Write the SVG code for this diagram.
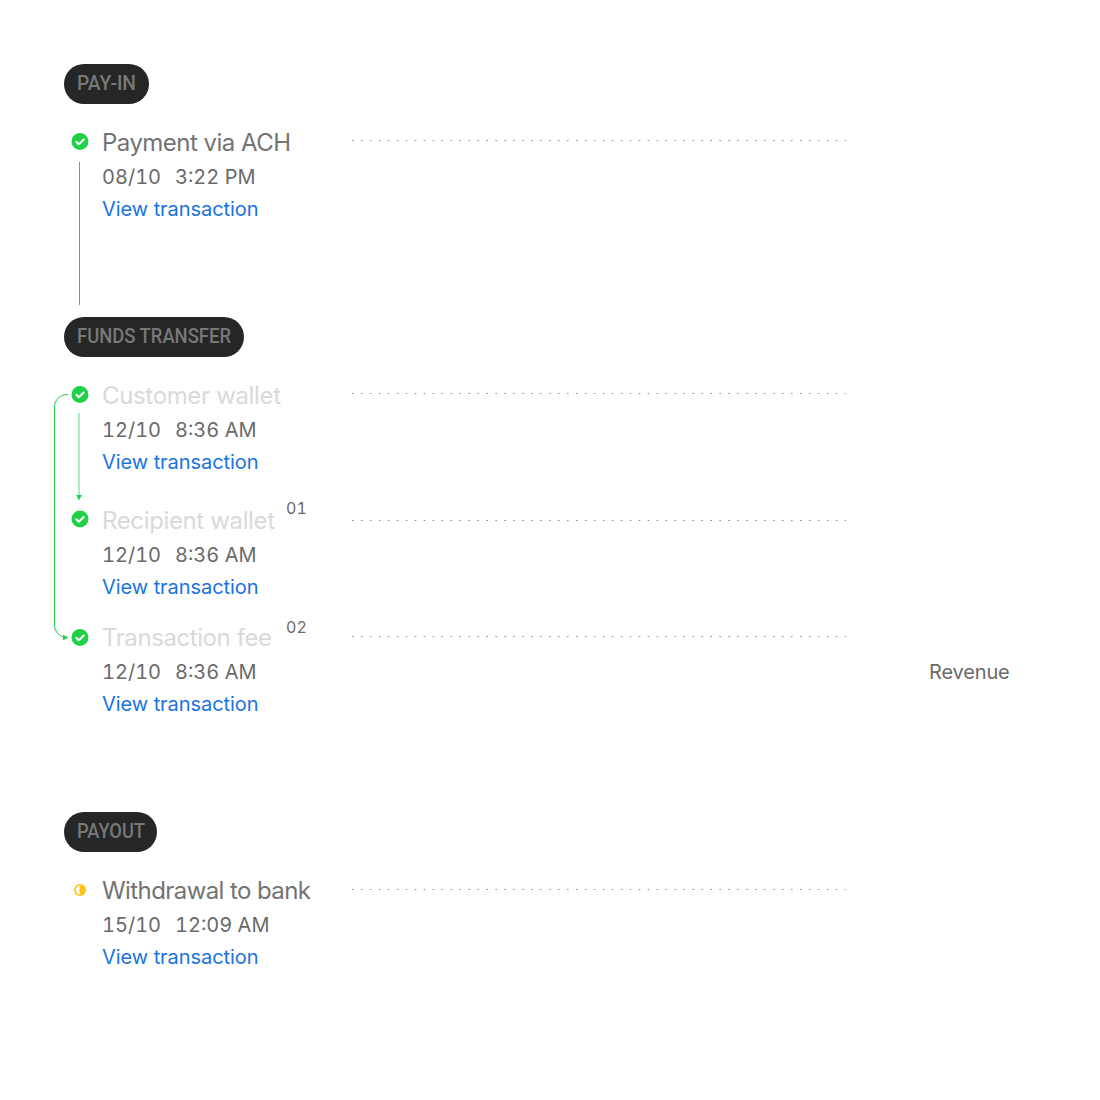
<svg xmlns="http://www.w3.org/2000/svg" width="1100" height="1100" viewBox="0 0 1100 1100">
<style>
text{font-family:Inter,"Liberation Sans",sans-serif}
.b{fill:#262626}
.bt{font-family:Roboto,"Liberation Sans",sans-serif;font-size:20px;font-weight:500;fill:#787878}
.t{font-size:24px;fill:#737373}
.f{font-size:24px;fill:#d9d9d9}
.d{font-size:20px;fill:#6a6a6a;font-variant-numeric:tabular-nums}
.l{font-size:20px;fill:#1a73e0;letter-spacing:-.06px}
.n{font-size:16px;fill:#6a6a6a;font-variant-numeric:tabular-nums}
.r{font-size:20px;fill:#6a6a6a;letter-spacing:-.15px}
.dot{stroke:#8c8c8c;stroke-width:1.2;stroke-dasharray:1.5 7.46;fill:none}
.g{fill:#22d048}
.c{fill:none;stroke:#fff;stroke-width:2;stroke-linecap:round;stroke-linejoin:round}
.ln{fill:none;stroke:#22d048;stroke-width:1}
</style>
<defs>
<g id="ok"><circle r="8.500" class="g"/><path class="c" d="M-3.700 .2L-1.100 2.800L3.700-2"/></g>
<marker id="a" markerUnits="userSpaceOnUse" markerWidth="6" markerHeight="6" refX="5" refY="3" orient="auto"><path d="M0 0L5 3L0 6Z" fill="#22d048"/></marker>
</defs>
<g id="connectors">
<path class="ln" d="M79.500 162V305"/>
<path class="ln" d="M79 413V500" marker-end="url(#a)" stroke-opacity=".75"/>
<path class="ln" d="M68 394.500C60 394.500 54.500 400 54.500 407V625C54.500 632 60 637.500 68 637.500" marker-end="url(#a)"/>
<path class="dot" d="M352 140.500H846"/>
<path class="dot" d="M352 393.500H846"/>
<path class="dot" d="M352 520.500H846"/>
<path class="dot" d="M352 636.500H846"/>
<path class="dot" d="M352 889.500H846"/>
</g>
<g id="badge-pay-in"><rect class="b" x="64" y="64" width="85" height="40" rx="20"/><text class="bt" x="77" y="90" textLength="59" lengthAdjust="spacingAndGlyphs">PAY-IN</text></g>
<g id="node-ach"><use href="#ok" x="80" y="141.500"/><text class="t" x="102" y="151" textLength="189">Payment via ACH</text><text class="d" x="102" y="184">08/10</text><text class="d" x="175" y="184">3:22 PM</text><text class="l" x="102" y="216">View transaction</text></g>
<g id="badge-funds"><rect class="b" x="64" y="317" width="180" height="40" rx="20"/><text class="bt" x="77" y="343" textLength="154" lengthAdjust="spacingAndGlyphs">FUNDS TRANSFER</text></g>
<g id="node-customer"><use href="#ok" x="80" y="394.500"/><text class="f" x="102" y="404" textLength="179">Customer wallet</text><text class="d" x="102" y="437">12/10</text><text class="d" x="175" y="437">8:36 AM</text><text class="l" x="102" y="469">View transaction</text></g>
<g id="node-recipient"><use href="#ok" x="80" y="519"/><text class="f" x="102" y="529" textLength="173">Recipient wallet</text><text class="n" x="286" y="514">01</text><text class="d" x="102" y="562">12/10</text><text class="d" x="175" y="562">8:36 AM</text><text class="l" x="102" y="594">View transaction</text></g>
<g id="node-fee"><use href="#ok" x="80" y="637.500"/><text class="f" x="102" y="646" textLength="170">Transaction fee</text><text class="n" x="286" y="632.500">02</text><text class="d" x="102" y="679">12/10</text><text class="d" x="175" y="679">8:36 AM</text><text class="l" x="102" y="711">View transaction</text></g>
<g id="label-revenue"><text class="r" x="929" y="679">Revenue</text></g>
<g id="badge-payout"><rect class="b" x="64" y="812" width="93" height="40" rx="20"/><text class="bt" x="77" y="838" textLength="68" lengthAdjust="spacingAndGlyphs">PAYOUT</text></g>
<g id="node-withdrawal"><circle cx="80" cy="890" r="6" fill="#fcc419"/><path d="M80.500 885.500C77 886 75.800 888 75.800 890C75.800 892 77 894 80.500 894.500C79 892.500 79 887.500 80.500 885.500Z" fill="#fff"/><text class="t" x="102" y="899" textLength="209">Withdrawal to bank</text><text class="d" x="102" y="932">15/10</text><text class="d" x="175" y="932">12:09 AM</text><text class="l" x="102" y="964">View transaction</text></g>
</svg>
